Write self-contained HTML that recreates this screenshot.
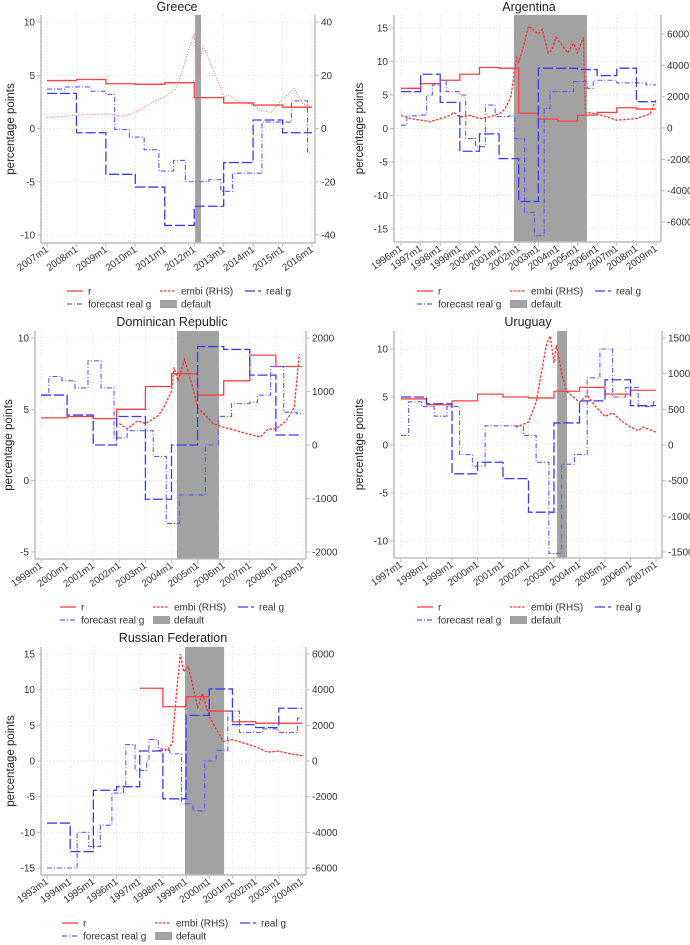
<!DOCTYPE html>
<html><head><meta charset="utf-8"><style>
html,body{margin:0;padding:0;background:#fff;}
svg{display:block;font-family:"Liberation Sans",Arial,sans-serif;}
</style></head><body>
<svg id="chart" width="690" height="945" viewBox="0 0 690 945" xmlns="http://www.w3.org/2000/svg"></svg>
<script>
// ---------- DATA ----------
const greeceR = [[2007,4.5],[2008,4.6],[2009,4.2],[2010,4.15],[2011,4.3],[2012,2.9],[2013,2.4],[2014,2.2],[2015,2.0],[2016,2.0]];
const greeceG = [[2007,3.3],[2008,-0.4],[2009,-4.3],[2010,-5.5],[2011,-9.1],[2012,-7.3],[2013,-3.2],[2014,0.8],[2015,-0.4],[2016,-0.4]];
const greeceF = [[2007,3.7],[2007.6,3.9],[2008.5,3.5],[2009,3.2],[2009.3,-0.1],[2009.8,-0.8],[2010.3,-2.0],[2010.8,-4.0],[2011.3,-3.0],[2011.7,-5.0],[2012.5,-4.8],[2012.9,-5.9],[2013.3,-4.2],[2014.3,0.6],[2015.3,2.6],[2015.85,-2.3],[2016,-2.3]];
const greeceE = [[2007,4],[2008,5],[2009,5.5],[2009.6,4.5],[2010,6],[2010.6,10],[2011,12],[2011.4,15],[2011.6,22],[2012.0,36],[2012.1,21],[2012.3,31],[2012.5,26],[2012.8,18],[2013,12],[2013.2,12.5],[2013.5,10],[2014,9],[2014.2,7],[2014.6,6],[2015,11],[2015.4,15],[2015.7,9],[2016,8]];

const argR = [[1996,6.0],[1997,6.7],[1998,7.2],[1999,8.1],[2000,9.1],[2001,9.0],[2002,2.3],[2003,1.4],[2004,1.1],[2005,2.0],[2006,2.4],[2007,3.1],[2008,2.9],[2009,2.9]];
const argG = [[1996,5.5],[1997,8.1],[1998,3.9],[1999,-3.4],[2000,-0.8],[2001,-4.5],[2002,-10.9],[2003,9.0],[2005,8.8],[2006,7.9],[2007,9.0],[2008,4.0],[2009,4.0]];
const argF = [[1996,0.5],[1996.3,1.9],[1997,2.0],[1997.3,5.0],[1997.6,6.5],[1998,7.2],[1998.3,5.5],[1999,5.0],[1999.3,-1.5],[1999.8,-2.7],[2000.3,3.5],[2000.8,1.8],[2001.5,1.9],[2001.8,-1.5],[2002.3,-12.5],[2002.8,-16.0],[2003.3,3.0],[2003.6,5.5],[2004.8,7.0],[2005.5,6.0],[2005.8,7.2],[2007,6.8],[2008.5,6.5],[2009,6.5]];
const argE = [[1996,800],[1996.5,600],[1997,500],[1997.5,400],[1998,600],[1998.5,800],[1998.7,1000],[1999,700],[1999.5,800],[2000,600],[2000.5,700],[2001,900],[2001.3,1200],[2001.6,2000],[2001.9,4500],[2002.0,4200],[2002.2,5000],[2002.5,6500],[2003,6000],[2003.2,6300],[2003.5,4800],[2003.7,5000],[2003.9,5800],[2004.2,5300],[2004.5,4800],[2004.8,5400],[2005,4800],[2005.3,5800],[2005.4,1000],[2006,900],[2007,500],[2008,600],[2008.7,900],[2009,1800]];

const domR = [[1999,4.4],[2000,4.5],[2001,4.35],[2001.9,5.0],[2003,6.6],[2004,7.5],[2005,6.0],[2006,7.0],[2007,8.8],[2008,8.0],[2009,8.0]];
const domG = [[1999,6.0],[2000,4.6],[2001,2.5],[2001.9,4.5],[2003,-1.3],[2004,2.5],[2005,9.4],[2006,9.2],[2007,7.4],[2008,3.2],[2009,3.2]];
const domF = [[1999,6.0],[1999.3,7.3],[1999.8,7.0],[2000.3,6.5],[2000.8,8.4],[2001.3,6.5],[2001.8,3.0],[2002.3,3.5],[2003.3,1.7],[2003.8,-3.0],[2004.3,-1.0],[2005.3,2.5],[2005.8,4.5],[2006.3,5.4],[2007,5.5],[2007.3,6.0],[2007.8,8.0],[2008.3,4.8],[2008.8,4.7],[2009,4.7]];
const domE = [[2002.0,400],[2002.3,300],[2002.7,450],[2003.0,400],[2003.5,550],[2003.7,700],[2004,1000],[2004.1,1450],[2004.25,1200],[2004.5,1600],[2004.8,1100],[2005,700],[2005.3,550],[2005.6,400],[2006,330],[2007,200],[2007.4,150],[2007.7,300],[2008,300],[2008.4,450],[2008.7,700],[2008.9,1700]];

const uruR = [[1997,4.8],[1998,4.2],[1999,4.6],[2000,5.3],[2001,5.0],[2002,4.9],[2003,5.6],[2004,6.0],[2005,5.3],[2006,5.7],[2007,5.7]];
const uruG = [[1997,5.0],[1998,4.3],[1999,-3.0],[2000,-1.8],[2001,-3.5],[2002,-7.0],[2003,2.3],[2004,4.6],[2005,6.8],[2006,4.1],[2007,4.1]];
const uruF = [[1997,1.0],[1997.3,4.5],[1997.8,4.0],[1998.3,3.0],[1998.8,4.0],[1999.3,-1.0],[1999.8,-2.2],[2000.3,2.0],[2001.8,1.0],[2002.3,-1.8],[2002.8,-11.3],[2003.3,-2.0],[2003.8,-1.0],[2004.3,7.0],[2004.8,10.0],[2005.3,5.0],[2005.8,6.0],[2006.3,4.0],[2006.9,4.5],[2007,4.5]];
const uruE = [[2001.5,250],[2002,320],[2002.3,600],[2002.5,1000],[2002.7,1400],[2002.85,1530],[2003.0,1150],[2003.1,1400],[2003.3,1000],[2003.5,750],[2004,600],[2004.3,700],[2004.6,550],[2005,400],[2005.3,450],[2005.6,350],[2006,250],[2006.3,200],[2006.5,250],[2007,180]];

const rusR = [[1997,10.2],[1998,7.6],[1999,9.0],[2000,7.0],[2001,5.5],[2002,5.3],[2004,5.3]];
const rusG = [[1993,-8.7],[1994,-12.7],[1995,-4.1],[1996,-3.6],[1997,1.4],[1998,-5.3],[1999,6.4],[2000,10.1],[2001,5.1],[2002,4.7],[2003,7.4],[2004,7.4]];
const rusF = [[1993,-15],[1994.3,-10],[1994.8,-12],[1995.3,-9],[1995.8,-4.5],[1996.3,-3.5],[1996.4,2.3],[1996.8,-1.3],[1997.3,0],[1997.4,3.0],[1997.8,1.5],[1998.3,1.0],[1998.8,-6],[1999.3,-7],[1999.8,0],[2000.3,1.5],[2000.8,7.0],[2001.3,4],[2002,4],[2002.3,4.5],[2003,4],[2003.8,6],[2004,6]];
const rusE = [[1997.9,700],[1998.2,600],[1998.4,1000],[1998.6,4000],[1998.75,6000],[1998.9,5000],[1999.1,5300],[1999.5,3000],[1999.7,3800],[2000,2500],[2000.3,1800],[2000.6,1100],[2001,1200],[2001.5,1000],[2002,800],[2002.5,500],[2003,550],[2003.5,400],[2004,300]];

const greeceDefault = [2012.03, 2012.23];
const argDefault = [2001.76, 2005.48];
const domDefault = [2004.21, 2005.82];
const uruDefault = [2003.12, 2003.51];
const rusDefault = [1998.95, 2000.64];

const greeceLTicks = [-10,-5,0,5,10], greeceRTicks = [-40,-20,0,20,40];
const argLTicks = [-15,-10,-5,0,5,10,15], argRTicks = [-6000,-4000,-2000,0,2000,4000,6000];
const domLTicks = [-5,0,5,10], domRTicks = [-2000,-1000,0,1000,2000];
const uruLTicks = [-10,-5,0,5,10], uruRTicks = [-1500,-1000,-500,0,500,1000,1500];
const rusLTicks = [-15,-10,-5,0,5,10,15], rusRTicks = [-6000,-4000,-2000,0,2000,4000,6000];

// ---------- RENDER ----------
const NS = "http://www.w3.org/2000/svg";
const svg = document.getElementById('chart');
function el(tag, attrs, parent, text){
  const e = document.createElementNS(NS, tag);
  for (const k in attrs) e.setAttribute(k, attrs[k]);
  if (text !== undefined) e.textContent = text;
  (parent || svg).appendChild(e);
  return e;
}
function slug(s){return s.toLowerCase().replace(/[^a-z0-9]+/g,'-');}

function panel(c){
  const g = el('g', {});
  
  
  const xs = t => c.x0 + (t - c.t0) / (c.t1 - c.t0) * (c.x1 - c.x0);
  const yl = v => c.lyTop + (c.lmax - v) / (c.lmax - c.lmin) * (c.lyBot - c.lyTop);
  const yr = v => c.ryTop + (c.rmax - v) / (c.rmax - c.rmin) * (c.ryBot - c.ryTop);

  for (let t = c.t0; t <= c.t1; t++){
    const gl = el('line', {x1:xs(t), x2:xs(t), y1:c.top, y2:c.bot, stroke:'#d8d8d8', 'stroke-width':0.7, 'stroke-dasharray':'1,2'}, g);
    
    
  }
  c.lticks.forEach(v => {
    const gl = el('line', {x1:c.axL, x2:c.axR, y1:yl(v), y2:yl(v), stroke:'#d8d8d8', 'stroke-width':0.7, 'stroke-dasharray':'1,2'}, g);
    
    
  });

  const band = el('rect', {x:xs(c.def[0]), y:c.top, width:xs(c.def[1]) - xs(c.def[0]), height:c.bot - c.top, fill:'#a2a2a2'}, g);
  
  

  const ax = el('line', {x1:c.axL, x2:c.axL, y1:c.top, y2:c.bot, stroke:'#bdbdbd', 'stroke-width':1.5}, g);
  
  
  const axr = el('line', {x1:c.axR, x2:c.axR, y1:c.top, y2:c.bot, stroke:'#bdbdbd', 'stroke-width':1.5}, g);
  
  
  const axb = el('line', {x1:c.axL, x2:c.axR, y1:c.bot, y2:c.bot, stroke:'#bdbdbd', 'stroke-width':1.5}, g);
  
  

  c.lticks.forEach(v => {
    el('line', {x1:c.axL - 4, x2:c.axL, y1:yl(v), y2:yl(v), stroke:'#bdbdbd'}, g);
    const tl = el('text', {x:c.axL - 6, y:yl(v) + 3.5, 'font-size':10, 'text-anchor':'end', fill:'#333'}, g, String(v));
    
    
  });
  c.rticks.forEach(v => {
    el('line', {x1:c.axR, x2:c.axR + 4, y1:yr(v), y2:yr(v), stroke:'#bdbdbd'}, g);
    const tl = el('text', {x:c.axR + 6, y:yr(v) + 3.5, 'font-size':10, fill:'#333'}, g, String(v));
    
    
  });
  for (let t = c.t0; t <= c.t1; t++){
    el('line', {x1:xs(t), x2:xs(t), y1:c.bot, y2:c.bot + 4, stroke:'#bdbdbd'}, g);
    const x = xs(t) + 2, y = c.bot + 8;
    const tl = el('text', {x:x, y:y, 'font-size':9.8, 'text-anchor':'end', fill:'#333', transform:`rotate(-35 ${x} ${y})`}, g, t + 'm1');
    
    
  }

  function stepPath(d, ys){
    let p = `M${xs(d[0][0])},${ys(d[0][1])}`;
    for (let i = 1; i < d.length; i++) p += ` H${xs(d[i][0])} V${ys(d[i][1])}`;
    return p;
  }
  function linePath(d, ys){
    return d.map((p, i) => (i ? 'L' : 'M') + xs(p[0]) + ',' + ys(p[1])).join(' ');
  }
  const sE = el('path', {d:linePath(c.e, yr), fill:'none', stroke:c.embiColor || '#ff3030', 'stroke-width':c.embiW || 1.3, 'stroke-dasharray':c.embiDash || '2.5,1.5'}, g);
  
  
  const sR = el('path', {d:stepPath(c.r, yl), fill:'none', stroke:'#ff4040', 'stroke-width':1.3}, g);
  
  
  const sF = el('path', {d:stepPath(c.f, yl), fill:'none', stroke:'#5a5aff', 'stroke-width':1.1, 'stroke-dasharray':'5,2,1,2'}, g);
  
  
  const sG = el('path', {d:stepPath(c.g, yl), fill:'none', stroke:'#3a3aff', 'stroke-width':1.3, 'stroke-dasharray':'10,3'}, g);
  
  

  const tt = el('text', {x:c.titleX, y:c.titleY, 'font-size':12.5, 'text-anchor':'middle', fill:'#222'}, g, c.title);
  
  
  const yc = (c.top + c.bot) / 2;
  const yt = el('text', {x:c.yTitleX, y:yc, 'font-size':11.5, 'text-anchor':'middle', fill:'#222', transform:`rotate(-90 ${c.yTitleX} ${yc})`}, g, 'percentage points');
  
  

  const lx = c.legX, ly = c.legY;
  function entry(x, y, kind, label){
    const lg = el('g', {}, g);
    
    
    if (kind === 'box') el('rect', {x:x, y:y - 4, width:17, height:8, fill:'#a2a2a2'}, lg);
    else el('line', {x1:x, x2:x + 16, y1:y, y2:y, stroke:kind.c, 'stroke-width':1.3, 'stroke-dasharray':kind.d}, lg);
    el('text', {x:x + 21, y:y + 3.5, 'font-size':10, fill:'#333'}, lg, label);
  }
  entry(lx, ly, {c:'#ff4040', d:'none'}, 'r');
  entry(lx + 93, ly, {c:'#ff3030', d:'2.5,1.5'}, 'embi (RHS)');
  entry(lx + 178, ly, {c:'#3a3aff', d:'10,3'}, 'real g');
  entry(lx, ly + 13, {c:'#5a5aff', d:'5,2,1,2'}, 'forecast real g');
  entry(lx + 93, ly + 13, 'box', 'default');
}

panel({title:'Greece', t0:2007, t1:2016, x0:47, x1:312, lmin:-10, lmax:10, lyTop:22, lyBot:235, rmin:-40, rmax:40, ryTop:22, ryBot:235,
  axL:41, axR:315, top:15, bot:243, def:greeceDefault, lticks:greeceLTicks, rticks:greeceRTicks,
  r:greeceR, g:greeceG, f:greeceF, e:greeceE, titleX:177, titleY:11, yTitleX:14, legX:67, legY:291,
  embiColor:'#ff7070', embiW:1, embiDash:'1,1.5'});
panel({title:'Argentina', t0:1996, t1:2009, x0:401, x1:656, lmin:-15, lmax:15, lyTop:28, lyBot:229, rmin:-6000, rmax:6000, ryTop:34, ryBot:222,
  axL:394, axR:661, top:15, bot:242, def:argDefault, lticks:argLTicks, rticks:argRTicks,
  r:argR, g:argG, f:argF, e:argE, titleX:529, titleY:11, yTitleX:363, legX:417, legY:291});
panel({title:'Dominican Republic', t0:1999, t1:2009, x0:41, x1:302, lmin:-5, lmax:10, lyTop:338, lyBot:552, rmin:-2000, rmax:2000, ryTop:338, ryBot:552,
  axL:35, axR:306, top:331, bot:559, def:domDefault, lticks:domLTicks, rticks:domRTicks,
  r:domR, g:domG, f:domF, e:domE, titleX:172, titleY:326, yTitleX:12, legX:60, legY:607});
panel({title:'Uruguay', t0:1997, t1:2007, x0:401, x1:656, lmin:-10, lmax:10, lyTop:349, lyBot:541, rmin:-1500, rmax:1500, ryTop:338, ryBot:552,
  axL:394, axR:662, top:331, bot:558, def:uruDefault, lticks:uruLTicks, rticks:uruRTicks,
  r:uruR, g:uruG, f:uruF, e:uruE, titleX:528, titleY:326, yTitleX:363, legX:417, legY:607});
panel({title:'Russian Federation', t0:1993, t1:2004, x0:47, x1:302, lmin:-15, lmax:15, lyTop:654, lyBot:868, rmin:-6000, rmax:6000, ryTop:654, ryBot:868,
  axL:41, axR:306, top:647, bot:875, def:rusDefault, lticks:rusLTicks, rticks:rusRTicks,
  r:rusR, g:rusG, f:rusF, e:rusE, titleX:173, titleY:642, yTitleX:14, legX:62, legY:923});
</script>
</body></html>
